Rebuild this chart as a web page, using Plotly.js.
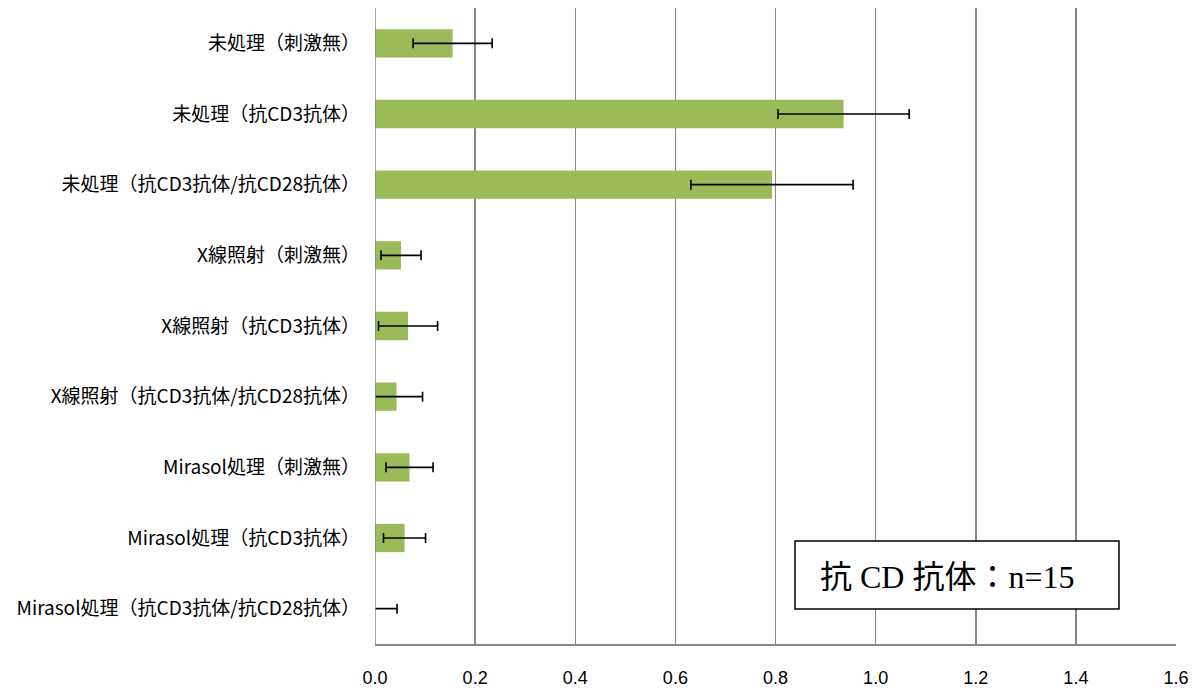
<!DOCTYPE html>
<html>
<head>
<meta charset="utf-8">
<script src="https://cdn.plot.ly/plotly-3.0.1.min.js"></script>
<style>html,body{margin:0;padding:0;background:#fff;}#chart{width:1198px;height:695px;}</style>
</head>
<body>
<div id="chart"></div>
<script>
const categories = [
  "未処理（刺激無）",
  "未処理（抗CD3抗体）",
  "未処理（抗CD3抗体/抗CD28抗体）",
  "X線照射（刺激無）",
  "X線照射（抗CD3抗体）",
  "X線照射（抗CD3抗体/抗CD28抗体）",
  "Mirasol処理（刺激無）",
  "Mirasol処理（抗CD3抗体）",
  "Mirasol処理（抗CD3抗体/抗CD28抗体）"
];
const values = [0.155, 0.936, 0.793, 0.052, 0.066, 0.043, 0.069, 0.059, 0.0];
const errors = [0.079, 0.131, 0.162, 0.040, 0.059, 0.052, 0.047, 0.042, 0.044];
const xTicks = [0, 0.2, 0.4, 0.6, 0.8, 1.0, 1.2, 1.4, 1.6];
const xTickLabels = ["0.0", "0.2", "0.4", "0.6", "0.8", "1.0", "1.2", "1.4", "1.6"];
const noteText = "抗 CD 抗体：n=15";

const trace = {
  type: "bar",
  orientation: "h",
  y: categories,
  x: values,
  marker: {color: "#9BBB59"},
  error_x: {type: "data", array: errors, visible: true, color: "#000000", thickness: 1.6, width: 5},
  hoverinfo: "x+y"
};

const layout = {
  width: 1198, height: 695,
  margin: {l: 375, r: 22, t: 8, b: 51},
  paper_bgcolor: "#ffffff",
  plot_bgcolor: "#ffffff",
  showlegend: false,
  bargap: 0.6,
  xaxis: {
    range: [0, 1.6],
    tickvals: xTicks,
    ticktext: xTickLabels,
    showgrid: true,
    gridcolor: "#868686",
    gridwidth: 1.5,
    zeroline: false,
    showline: true,
    linecolor: "#868686",
    linewidth: 1.5,
    ticks: "",
    ticklabelstandoff: 17,
    tickfont: {family: "Liberation Sans Narrow, Arial Narrow, sans-serif", size: 18, color: "#000000"},
    fixedrange: true
  },
  yaxis: {
    type: "category",
    autorange: "reversed",
    showgrid: false,
    zeroline: false,
    showline: false,
    ticks: "",
    ticklabelstandoff: 14,
    tickfont: {family: "Noto Sans CJK JP, sans-serif", size: 19, color: "#000000"},
    fixedrange: true
  },
  shapes: [
    {type: "line", xref: "x", yref: "paper", x0: 0, x1: 0, y0: 0, y1: 1,
     line: {color: "#868686", width: 1.5}},
    {type: "rect", xref: "paper", yref: "paper",
     x0: (795 - 375) / 801, x1: (1119 - 375) / 801,
     y0: (644 - 609) / 636, y1: (644 - 541) / 636,
     fillcolor: "#ffffff", line: {color: "#000000", width: 1.5}, layer: "above"}
  ],
  annotations: [
    {xref: "paper", yref: "paper", x: (947 - 375) / 801, y: (644 - 577) / 636,
     xanchor: "center", yanchor: "middle", showarrow: false, text: noteText,
     font: {family: "Liberation Serif, DejaVu Serif, Noto Sans CJK JP, serif", size: 32, color: "#000000"}}
  ]
};

Plotly.newPlot("chart", [trace], layout, {displayModeBar: false, staticPlot: true});
</script>
</body>
</html>
